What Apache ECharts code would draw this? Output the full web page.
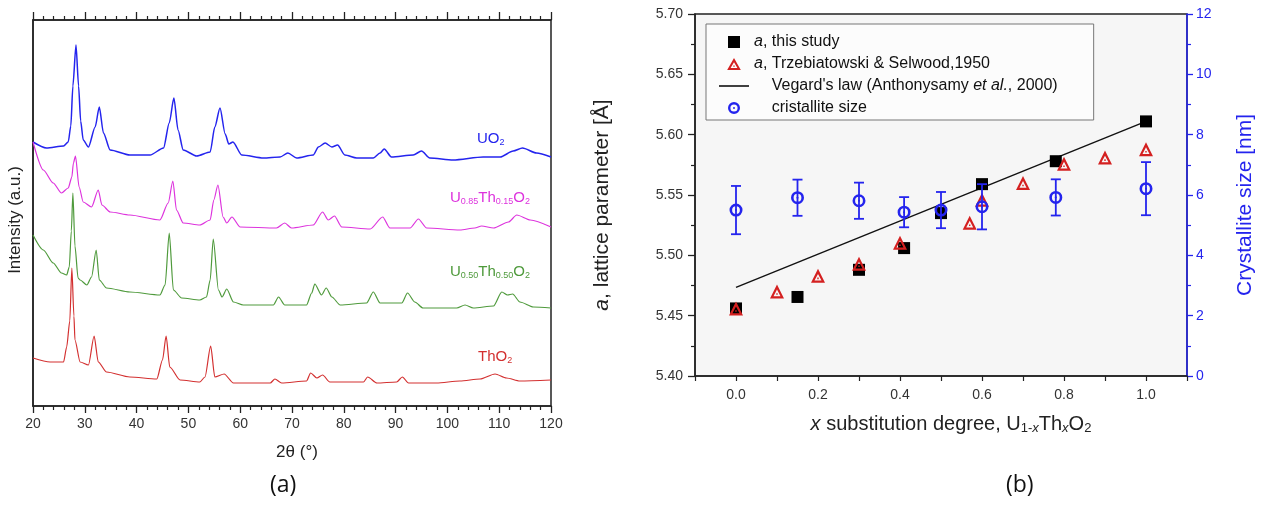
<!DOCTYPE html>
<html>
<head>
<meta charset="utf-8">
<script src="https://cdn.jsdelivr.net/npm/echarts@6/dist/echarts.min.js"></script>
<style>
  html, body { margin: 0; padding: 0; background: #fff; }
  #chart { width: 1262px; height: 507px; }
</style>
</head>
<body>
<div id="chart"></div>
<script>
// ---- panel (a): XRD patterns, 2theta (deg) and intensity (a.u., stacked offsets)
const uo2Theta = [20, 22.6, 25.9, 26.8, 27.3, 27.7, 28.3, 28.8, 29.2, 29.7, 30.7, 32.0, 32.8, 33.6, 34.9, 38.7, 42.6, 45.2, 46.3, 47.2, 48.0, 49.0, 51.6, 54.2, 55.1, 56.1, 57.1, 57.8, 58.6, 60.3, 64.5, 67.7, 69.2, 70.9, 74.1, 75.1, 76.4, 77.7, 78.8, 80.2, 82.5, 85.7, 87.0, 87.8, 89.2, 93.4, 95.0, 96.6, 101.1, 106.9, 110.2, 112.7, 114.5, 117.2, 120];
const uo2Int = [264, 258, 260, 264, 280, 320, 361, 320, 285, 266, 259, 279, 299, 273, 256, 251, 251, 258, 283, 308, 276, 256, 250, 254, 279, 298, 272, 262, 264, 251, 248, 249, 253, 248, 251, 259, 263, 259, 261, 251, 248, 248, 253, 257, 249, 251, 255, 248, 246, 249, 249, 255, 258, 253, 249];

const u85Theta = [20, 22.0, 23.9, 25.5, 26.8, 27.5, 27.8, 28.2, 28.9, 29.7, 31.3, 32.6, 33.3, 34.9, 38.7, 44.5, 46.1, 47.0, 47.7, 49.0, 52.2, 54.2, 54.9, 55.7, 56.7, 57.4, 58.4, 60.0, 67.0, 68.6, 69.9, 74.1, 75.9, 77.0, 78.2, 79.6, 85.1, 87.5, 88.9, 92.8, 94.4, 96.0, 102.4, 105.3, 106.6, 108.9, 111.8, 113.4, 116.0, 120];
const u85Int = [264, 236, 223, 213, 218, 229, 243, 250, 219, 204, 199, 216, 201, 194, 191, 186, 203, 225, 196, 183, 181, 186, 206, 221, 189, 183, 189, 179, 178, 183, 178, 181, 194, 186, 190, 179, 177, 189, 178, 178, 187, 178, 176, 178, 180, 178, 184, 191, 186, 179];

const u50Theta = [20, 22.0, 23.9, 25.5, 26.5, 27.0, 27.4, 27.7, 28.1, 28.7, 29.1, 30.4, 31.3, 32.2, 32.8, 34.2, 38.7, 44.5, 45.5, 46.3, 47.1, 48.7, 52.2, 53.5, 54.2, 54.8, 55.8, 56.5, 57.4, 58.7, 60.6, 66.4, 67.4, 68.6, 72.8, 73.8, 74.4, 75.7, 76.6, 77.7, 79.3, 84.4, 85.7, 87.0, 91.2, 92.3, 93.7, 95.3, 101.8, 103.4, 105.0, 108.9, 110.5, 111.6, 112.6, 114.0, 116.6, 120];
const u50Int = [171, 156, 143, 133, 131, 139, 175, 213, 160, 128, 126, 121, 129, 156, 126, 118, 114, 111, 121, 173, 116, 108, 106, 109, 126, 167, 116, 109, 117, 104, 101, 101, 109, 101, 101, 113, 122, 111, 118, 109, 101, 103, 114, 103, 103, 113, 104, 98, 98, 101, 98, 100, 114, 111, 112, 104, 99, 98];

const tho2Theta = [20, 23.3, 25.9, 26.5, 27.1, 27.5, 27.9, 28.1, 29.1, 30.7, 31.8, 32.6, 34.2, 38.7, 43.9, 45.0, 45.7, 46.4, 48.4, 52.2, 53.2, 54.3, 55.1, 56.9, 58.7, 65.8, 66.7, 68.0, 72.8, 73.6, 74.8, 75.9, 77.3, 83.8, 84.6, 86.4, 90.2, 91.3, 92.5, 97.9, 102.4, 106.3, 109.2, 111.4, 114.0, 120];
const tho2Int = [48, 44, 44, 59, 85, 138, 90, 66, 44, 41, 70, 44, 34, 29, 27, 46, 70, 39, 26, 24, 29, 60, 29, 32, 23, 23, 27, 23, 25, 33, 28, 31, 24, 24, 29, 23, 24, 29, 23, 23, 25, 27, 32, 28, 25, 26];

const thetaTicks = [20, 30, 40, 50, 60, 70, 80, 90, 100, 110, 120];

// ---- panel (b): lattice parameter and crystallite size vs x
const xStudy = [0, 0.15, 0.30, 0.41, 0.50, 0.60, 0.78, 1.00];
const aStudy = [5.456, 5.4655, 5.488, 5.506, 5.535, 5.559, 5.578, 5.611];
const xTrz = [0, 0.1, 0.2, 0.3, 0.4, 0.57, 0.6, 0.7, 0.8, 0.9, 1.0];
const aTrz = [5.456, 5.470, 5.483, 5.493, 5.5105, 5.527, 5.546, 5.560, 5.576, 5.581, 5.588];
const xVegard = [0, 1];
const aVegard = [5.4735, 5.611];
const xSize = [0, 0.15, 0.30, 0.41, 0.50, 0.60, 0.78, 1.00];
const sizeNm = [5.50, 5.91, 5.81, 5.43, 5.50, 5.61, 5.92, 6.21];
const sizeErr = [0.80, 0.60, 0.60, 0.50, 0.60, 0.75, 0.60, 0.88];

const FONT = 'Liberation Sans, Arial, sans-serif';
const BLUE = '#2424ee';
const pairs = (xs, ys) => xs.map((x, i) => [x, ys[i]]);

// hollow triangle / ring, both with a dot in the middle
const triPath = 'path://M50,0 L100,88 L0,88 Z M50,32 L25,74 L75,74 Z M45,55 L55,55 L55,65 L45,65 Z';
const ringPath = 'path://M50,0 A50,50 0 1,1 50,100 A50,50 0 1,1 50,0 Z M50,20 A30,30 0 1,0 50,80 A30,30 0 1,0 50,20 Z M50,42 A8,8 0 1,1 50,58 A8,8 0 1,1 50,42 Z';
const squarePath = 'path://M0,0 L10,0 L10,10 L0,10 Z';
const dashPath = 'path://M0,0 L30,0 L30,1.6 L0,1.6 Z';

const chart = echarts.init(document.getElementById('chart'));

const traceLabel = (left, top, color, text) => ({
  type: 'text', left: left, top: top,
  style: {
    text: text, fill: color,
    rich: {
      n: { fontFamily: FONT, fontSize: 15, lineHeight: 18, color: color },
      s: { fontFamily: FONT, fontSize: 9, lineHeight: 6, verticalAlign: 'bottom', color: color }
    }
  }
});

const xrdLine = (name, xs, ys, color, w) => ({
  name: name, type: 'line', xAxisIndex: 0, yAxisIndex: 0, data: pairs(xs, ys),
  symbol: 'none', smooth: 0.25, smoothMonotone: 'x',
  lineStyle: { color: color, width: w }
});

const option = {
  animation: false,
  backgroundColor: '#fff',
  grid: [
    { left: 33, top: 20, width: 518, height: 386, show: true, borderColor: '#222', borderWidth: 1.5, backgroundColor: '#fff' },
    { left: 695, top: 14, width: 492, height: 362, show: true, borderColor: '#222', borderWidth: 1.5, backgroundColor: '#f6f6f6' }
  ],
  xAxis: [
    {
      gridIndex: 0, type: 'value', min: 20, max: 120, interval: 10, position: 'bottom',
      name: '2θ (°)', nameLocation: 'middle', nameGap: 38,
      nameTextStyle: { fontFamily: FONT, fontSize: 17, color: '#222', padding: [0, 0, 0, 10] },
      axisLine: { lineStyle: { color: '#222', width: 1.5 } },
      axisTick: { length: 7, lineStyle: { color: '#222', width: 1.3 } },
      minorTick: { show: true, splitNumber: 5, length: 4, lineStyle: { color: '#222', width: 1.2 } },
      axisLabel: { fontFamily: FONT, fontSize: 14, color: '#333', margin: 11,
        formatter: v => thetaTicks.includes(v) ? String(v) : '' },
      splitLine: { show: false }
    },
    {
      gridIndex: 0, type: 'value', min: 20, max: 120, interval: 10, position: 'top',
      axisLine: { lineStyle: { color: '#222', width: 1.5 } },
      axisTick: { length: 8, lineStyle: { color: '#222', width: 1.3 } },
      minorTick: { show: true, splitNumber: 5, length: 4, lineStyle: { color: '#222', width: 1.2 } },
      axisLabel: { show: false },
      splitLine: { show: false }
    },
    {
      gridIndex: 1, type: 'value', min: -0.1, max: 1.1, interval: 0.1,
      name: '{i|x}{n| substitution degree, U}{s|1-}{si|x}{n|Th}{si|x}{n|O}{s|2}',
      nameLocation: 'middle', nameGap: 37,
      nameTextStyle: {
        fontFamily: FONT, fontSize: 20, color: '#222', padding: [0, 0, 0, 20],
        rich: {
          n: { fontFamily: FONT, fontSize: 20, lineHeight: 22, color: '#222' },
          i: { fontFamily: FONT, fontSize: 20, fontStyle: 'italic', lineHeight: 22, color: '#222' },
          s: { fontFamily: FONT, fontSize: 13, lineHeight: 8, verticalAlign: 'bottom', color: '#222' },
          si: { fontFamily: FONT, fontSize: 13, fontStyle: 'italic', lineHeight: 8, verticalAlign: 'bottom', color: '#222' }
        }
      },
      axisLine: { onZero: false, lineStyle: { color: '#222', width: 1.5 } },
      axisTick: { length: 5, lineStyle: { color: '#222', width: 1.2 } },
      axisLabel: { fontFamily: FONT, fontSize: 14, color: '#333', margin: 12,
        formatter: v => Math.abs(Math.round(v * 10)) % 2 === 0 ? v.toFixed(1) : '' },
      splitLine: { show: false }
    }
  ],
  yAxis: [
    {
      gridIndex: 0, type: 'value', min: 0, max: 386,
      name: 'Intensity (a.u.)', nameLocation: 'middle', nameGap: 9, nameRotate: 90,
      nameTextStyle: { fontFamily: FONT, fontSize: 17, color: '#222', padding: [0, 14, 0, 0] },
      axisLine: { show: true, lineStyle: { color: '#222', width: 1.5 } },
      axisTick: { show: false }, axisLabel: { show: false }, splitLine: { show: false }
    },
    {
      gridIndex: 1, type: 'value', min: 5.40, max: 5.70, interval: 0.05, position: 'left',
      name: '{i|a}{n|, lattice parameter [Å]}', nameLocation: 'middle', nameGap: 82, nameRotate: 90,
      nameTextStyle: {
        fontFamily: FONT, fontSize: 21, color: '#222', padding: [0, 20, 0, 0],
        rich: {
          n: { fontFamily: FONT, fontSize: 21, color: '#222' },
          i: { fontFamily: FONT, fontSize: 21, fontStyle: 'italic', color: '#222' }
        }
      },
      axisLine: { show: true, onZero: false, lineStyle: { color: '#222', width: 1.5 } },
      axisTick: { length: 7, lineStyle: { color: '#222', width: 1.3 } },
      minorTick: { show: true, splitNumber: 2, length: 4, lineStyle: { color: '#222', width: 1.2 } },
      axisLabel: { fontFamily: FONT, fontSize: 14, color: '#333', margin: 12, formatter: v => v.toFixed(2) },
      splitLine: { show: false }
    },
    {
      gridIndex: 1, type: 'value', min: 0, max: 12, interval: 2, position: 'right',
      name: 'Crystallite size [nm]', nameLocation: 'middle', nameGap: 48, nameRotate: 90,
      nameTextStyle: { fontFamily: FONT, fontSize: 21, color: BLUE, padding: [0, 20, 0, 0] },
      axisLine: { show: true, onZero: false, lineStyle: { color: BLUE, width: 1.5 } },
      axisTick: { length: 6, lineStyle: { color: BLUE, width: 1.3 } },
      minorTick: { show: true, splitNumber: 2, length: 4, lineStyle: { color: BLUE, width: 1.2 } },
      axisLabel: { fontFamily: FONT, fontSize: 14, color: BLUE, margin: 9 },
      splitLine: { show: false }
    }
  ],
  legend: {
    left: 706, top: 24,
    orient: 'vertical', padding: [10, 36, 4, 13], itemGap: 6,
    itemWidth: 30, itemHeight: 12, symbolKeepAspect: true,
    borderColor: '#777', borderWidth: 1, backgroundColor: '#fcfcfc',
    data: [
      { name: 'this study', icon: squarePath },
      { name: 'Trzebiatowski' },
      { name: 'Vegard', icon: dashPath },
      { name: 'cristallite size' }
    ],
    formatter: name => ({
      'this study': '{i|a}{n|, this study}',
      'Trzebiatowski': '{i|a}{n|, Trzebiatowski & Selwood,1950}',
      'Vegard': "{n|    Vegard's law (Anthonysamy }{i|et al.}{n|, 2000)}",
      'cristallite size': '{n|    cristallite size}'
    })[name],
    textStyle: {
      fontFamily: FONT, fontSize: 16, color: '#111',
      rich: {
        n: { fontFamily: FONT, fontSize: 16, lineHeight: 17, color: '#111' },
        i: { fontFamily: FONT, fontSize: 16, lineHeight: 17, fontStyle: 'italic', color: '#111' }
      }
    }
  },
  graphic: [
    traceLabel(477, 131, '#2424ee', '{n|UO}{s|2}'),
    traceLabel(450, 190, '#dd33dd', '{n|U}{s|0.85}{n|Th}{s|0.15}{n|O}{s|2}'),
    traceLabel(450, 264, '#4f9a3c', '{n|U}{s|0.50}{n|Th}{s|0.50}{n|O}{s|2}'),
    traceLabel(478, 349, '#d33030', '{n|ThO}{s|2}'),
    { type: 'text', left: 270, top: 474, style: { text: '(a)', font: '23px "Open Sans", sans-serif', fill: '#111' } },
    { type: 'text', left: 1006, top: 474, style: { text: '(b)', font: '23px "Open Sans", sans-serif', fill: '#111' } }
  ],
  series: [
    xrdLine('UO2', uo2Theta, uo2Int, '#2424ee', 1.5),
    xrdLine('U0.85', u85Theta, u85Int, '#dd33dd', 1.2),
    xrdLine('U0.50', u50Theta, u50Int, '#4f9a3c', 1.2),
    xrdLine('ThO2', tho2Theta, tho2Int, '#d33030', 1.2),

    { name: 'Vegard', type: 'line', xAxisIndex: 2, yAxisIndex: 1, data: pairs(xVegard, aVegard),
      symbol: 'none', lineStyle: { color: '#111', width: 1.4 }, itemStyle: { color: '#111' }, z: 2 },
    { name: 'this study', type: 'scatter', xAxisIndex: 2, yAxisIndex: 1, data: pairs(xStudy, aStudy),
      symbol: squarePath, symbolSize: 12, itemStyle: { color: '#000', opacity: 1 }, z: 3 },
    { name: 'Trzebiatowski', type: 'scatter', xAxisIndex: 2, yAxisIndex: 1, data: pairs(xTrz, aTrz),
      symbol: triPath, symbolSize: 14, itemStyle: { color: '#d42020', opacity: 1 }, z: 4 },
    { name: 'size error', type: 'custom', xAxisIndex: 2, yAxisIndex: 2,
      data: xSize.map((x, i) => [x, sizeNm[i] - sizeErr[i], sizeNm[i] + sizeErr[i]]),
      encode: { x: 0, y: [1, 2] }, z: 5,
      renderItem: (params, api) => {
        const lo = api.coord([api.value(0), api.value(1)]);
        const hi = api.coord([api.value(0), api.value(2)]);
        const w = 5;
        const st = { stroke: BLUE, lineWidth: 1.8 };
        return { type: 'group', children: [
          { type: 'line', shape: { x1: lo[0], y1: lo[1], x2: hi[0], y2: hi[1] }, style: st },
          { type: 'line', shape: { x1: lo[0] - w, y1: lo[1], x2: lo[0] + w, y2: lo[1] }, style: st },
          { type: 'line', shape: { x1: hi[0] - w, y1: hi[1], x2: hi[0] + w, y2: hi[1] }, style: st }
        ] };
      }
    },
    { name: 'cristallite size', type: 'scatter', xAxisIndex: 2, yAxisIndex: 2, data: pairs(xSize, sizeNm),
      symbol: ringPath, symbolSize: 13, itemStyle: { color: BLUE, opacity: 1 }, z: 6 }
  ]
};

chart.setOption(option);
</script>
</body>
</html>
